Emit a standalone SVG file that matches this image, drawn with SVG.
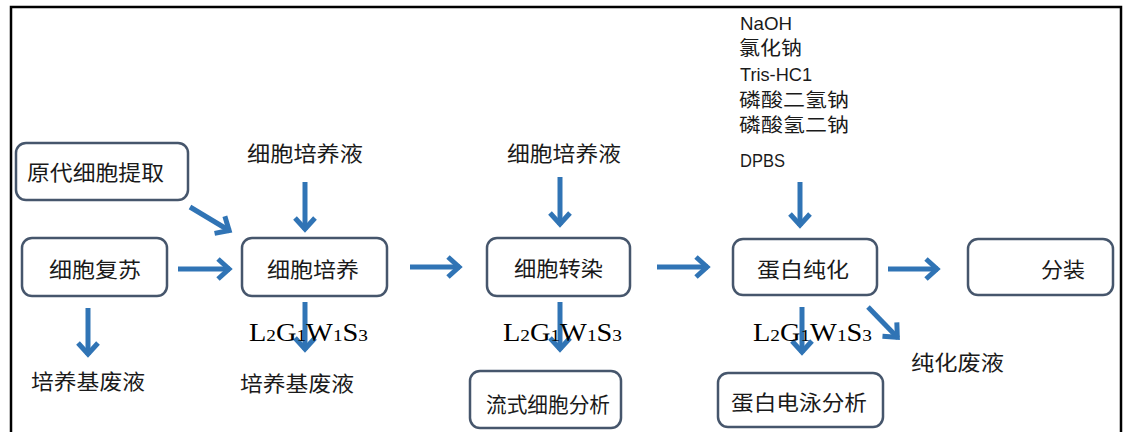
<svg xmlns="http://www.w3.org/2000/svg" width="1130" height="432" viewBox="0 0 1130 432">
<style>
.box{fill:#fff;stroke:#46566c;stroke-width:2.5}
.t{font-family:"Noto Sans CJK SC","Noto Sans",sans-serif;font-size:21px;fill:#1a1a1a}
.s{font-size:19px}
.r{font-family:"Liberation Sans","Noto Sans CJK SC",sans-serif;font-size:19px;fill:#1a1a1a}
.f{font-family:"Liberation Serif",serif;font-size:25px;fill:#000}
.f tspan{font-size:17px}
.arr{fill:none;stroke:#3074b5;stroke-width:5;marker-end:url(#ah)}
</style>
<defs>
<marker id="ah" markerUnits="userSpaceOnUse" viewBox="-18 -14 22 28" markerWidth="22" markerHeight="28" refX="0" refY="0" orient="auto" overflow="visible">
<path d="M-12,-10 L-1,0 L-12,10" fill="none" stroke="#3074b5" stroke-width="5"/>
</marker>
</defs>
<path d="M11,432 V7 H1121 V432" fill="none" stroke="#000" stroke-width="2.5"/>
<g id="connectors">
<path class="arr" d="M190,207 L230,231"/>
<path class="arr" d="M178,269 L230,269"/>
<path class="arr" d="M305,182 L305,230"/>
<path class="arr" d="M88,308 L88,355"/>
<path class="arr" d="M305,302 L305,350"/>
<path class="arr" d="M410,267 L460,267"/>
<path class="arr" d="M560,177 L560,225"/>
<path class="arr" d="M560,302 L560,350"/>
<path class="arr" d="M657,267 L708,267"/>
<path class="arr" d="M800,182 L800,226"/>
<path class="arr" d="M888,269 L938,269"/>
<path class="arr" d="M802,307 L802,353"/>
<path class="arr" d="M868,307 L898,338"/>
</g>
<g id="n1"><rect class="box" x="16" y="143" width="172" height="57" rx="10"/><text class="t" x="27" y="180" textLength="137" lengthAdjust="spacingAndGlyphs">原代细胞提取</text></g>
<g id="n2"><rect class="box" x="22" y="238" width="145" height="58" rx="10"/><text class="t" x="49" y="277" textLength="92" lengthAdjust="spacingAndGlyphs">细胞复苏</text></g>
<g id="n3"><rect class="box" x="242" y="238" width="145" height="58" rx="10"/><text class="t" x="267" y="277" textLength="92" lengthAdjust="spacingAndGlyphs">细胞培养</text></g>
<g id="n4"><rect class="box" x="487" y="238" width="143" height="58" rx="10"/><text class="t" x="514" y="276" textLength="89" lengthAdjust="spacingAndGlyphs">细胞转染</text></g>
<g id="n5"><rect class="box" x="733" y="239" width="144" height="56" rx="10"/><text class="t" x="757" y="277" textLength="92" lengthAdjust="spacingAndGlyphs">蛋白纯化</text></g>
<g id="n6"><rect class="box" x="968" y="239" width="145" height="56" rx="10"/><text class="t" x="1041" y="277" textLength="44" lengthAdjust="spacingAndGlyphs">分装</text></g>
<g id="n7"><rect class="box" x="470" y="371" width="151" height="57" rx="10"/><text class="t" x="486" y="412" textLength="124" lengthAdjust="spacingAndGlyphs">流式细胞分析</text></g>
<g id="n8"><rect class="box" x="718" y="373" width="165" height="54" rx="10"/><text class="t" x="731" y="410" textLength="136" lengthAdjust="spacingAndGlyphs">蛋白电泳分析</text></g>
<g id="l1"><text class="t" x="247" y="161" textLength="116" lengthAdjust="spacingAndGlyphs">细胞培养液</text></g>
<g id="l2"><text class="t" x="507" y="161" textLength="114" lengthAdjust="spacingAndGlyphs">细胞培养液</text></g>
<g id="l3"><text class="t" x="31" y="389" textLength="114" lengthAdjust="spacingAndGlyphs">培养基废液</text></g>
<g id="l4"><text class="t" x="240" y="391" textLength="114" lengthAdjust="spacingAndGlyphs">培养基废液</text></g>
<g id="l5"><text class="t" x="911" y="370" textLength="93" lengthAdjust="spacingAndGlyphs">纯化废液</text></g>
<g id="f1"><text class="f" x="249" y="341" textLength="119" lengthAdjust="spacingAndGlyphs">L<tspan>2</tspan>G<tspan>1</tspan>W<tspan>1</tspan>S<tspan>3</tspan></text></g>
<g id="f2"><text class="f" x="503" y="341" textLength="119" lengthAdjust="spacingAndGlyphs">L<tspan>2</tspan>G<tspan>1</tspan>W<tspan>1</tspan>S<tspan>3</tspan></text></g>
<g id="f3"><text class="f" x="753" y="341" textLength="119" lengthAdjust="spacingAndGlyphs">L<tspan>2</tspan>G<tspan>1</tspan>W<tspan>1</tspan>S<tspan>3</tspan></text></g>
<g id="reagents">
<text class="r" x="740" y="30" textLength="52" lengthAdjust="spacingAndGlyphs">NaOH</text>
<text class="t s" x="739" y="55" textLength="63" lengthAdjust="spacingAndGlyphs">氯化钠</text>
<text class="r" x="740" y="81" textLength="72" lengthAdjust="spacingAndGlyphs">Tris-HC1</text>
<text class="t s" x="739" y="107" textLength="110" lengthAdjust="spacingAndGlyphs">磷酸二氢钠</text>
<text class="t s" x="739" y="132" textLength="110" lengthAdjust="spacingAndGlyphs">磷酸氢二钠</text>
<text class="r" x="740" y="167" textLength="45" lengthAdjust="spacingAndGlyphs">DPBS</text>
</g>
</svg>
